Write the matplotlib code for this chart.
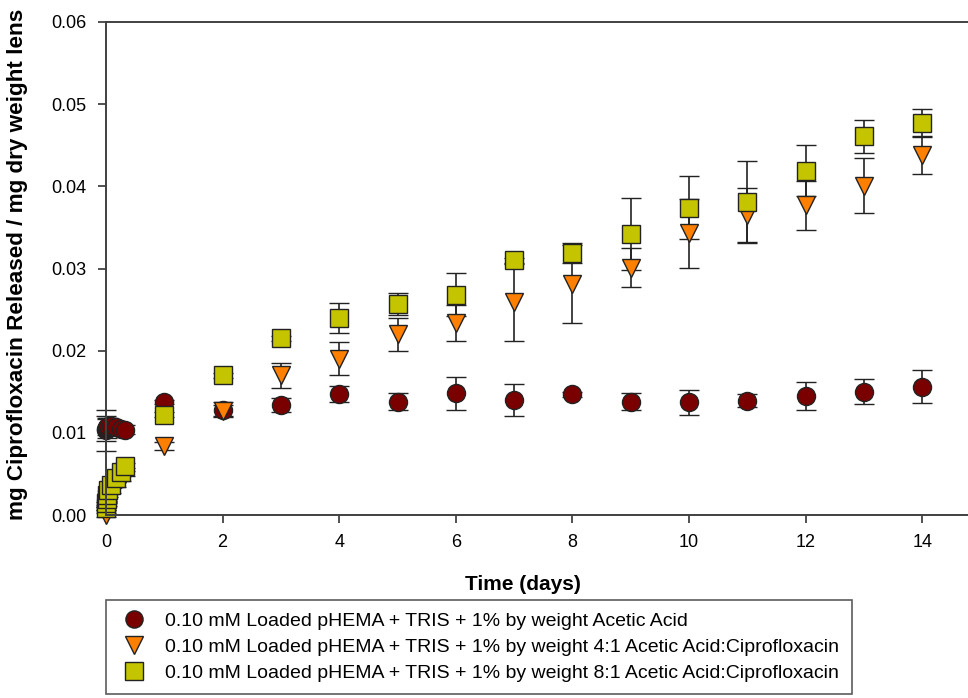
import numpy as np
import matplotlib
matplotlib.use("Agg")
import matplotlib.pyplot as plt

plt.rcParams['font.family'] = ['Liberation Sans', 'DejaVu Sans']

# time points (days)
t = [0, 0.0035, 0.0104, 0.0208, 0.0417, 0.0833, 0.167, 0.25, 0.333,
     1, 2, 3, 4, 5, 6, 7, 8, 9, 10, 11, 12, 13, 14]

# 1% acetic acid
aa_mean = [0.0103, 0.0105, 0.0106, 0.0107, 0.0108, 0.0108, 0.0107, 0.0105, 0.0104,
           0.01375, 0.0128, 0.0134, 0.0147, 0.0138, 0.0148, 0.0140, 0.0147,
           0.0138, 0.0137, 0.0139, 0.0145, 0.0150, 0.0156]
aa_err = [0.0025, 0.0015, 0.0012, 0.0010, 0.0010, 0.0008, 0.0006, 0.0005, 0.0005,
          0.0003, 0.0009, 0.0009, 0.0010, 0.0010, 0.0020, 0.0019, 0.0003,
          0.0010, 0.0015, 0.0008, 0.0017, 0.0015, 0.0020]

# 4:1 acetic acid:ciprofloxacin
r41_mean = [0.0000, 0.0008, 0.0013, 0.0018, 0.0024, 0.0030, 0.0037, 0.0044, 0.0050,
            0.0084, 0.0127, 0.0170, 0.0190, 0.0220, 0.0234, 0.0259, 0.0281,
            0.0301, 0.0343, 0.0365, 0.0377, 0.0401, 0.0438]
r41_err = [0.0002, 0.0002, 0.0002, 0.0002, 0.0002, 0.0003, 0.0003, 0.0003, 0.0003,
           0.0005, 0.0007, 0.0015, 0.0020, 0.0020, 0.0022, 0.0047, 0.0047,
           0.0024, 0.0042, 0.0033, 0.0030, 0.0033, 0.0023]

# 8:1 acetic acid:ciprofloxacin
r81_mean = [0.0008, 0.0014, 0.0019, 0.0024, 0.0030, 0.0037, 0.0045, 0.0052, 0.0060,
            0.0122, 0.0170, 0.0215, 0.0240, 0.0257, 0.0268, 0.0310, 0.0319,
            0.0342, 0.0374, 0.0381, 0.0419, 0.0461, 0.0477]
r81_err = [0.0002, 0.0002, 0.0002, 0.0002, 0.0003, 0.0003, 0.0003, 0.0003, 0.0003,
           0.0003, 0.0003, 0.0003, 0.0018, 0.0013, 0.0026, 0.0003, 0.0012,
           0.0044, 0.0038, 0.0050, 0.0031, 0.0020, 0.0017]

labels = ["0.10 mM Loaded pHEMA + TRIS + 1% by weight Acetic Acid",
          "0.10 mM Loaded pHEMA + TRIS + 1% by weight 4:1 Acetic Acid:Ciprofloxacin",
          "0.10 mM Loaded pHEMA + TRIS + 1% by weight 8:1 Acetic Acid:Ciprofloxacin"]

fig = plt.figure(figsize=(9.68, 6.98), dpi=100)
ax = fig.add_axes([106/968, 1 - 515/698, 15*58.3/968, 493/698])

series = [(aa_mean, aa_err, 'o', '#7a0000'),
          (r41_mean, r41_err, 'v', '#ff8000'),
          (r81_mean, r81_err, 's', '#c4c400')]
handles = []
for (m, e, mk, c), lab in zip(series, labels):
    h = ax.errorbar(t, m, yerr=e, fmt=mk, ms=13, mfc=c, mec='#222222', mew=1.0,
                    ecolor='#222222', elinewidth=1.2, capsize=7.5, capthick=1.2,
                    label=lab)
    h.lines[0].set_clip_on(False)
    for cl in h.lines[1]:
        cl.set_clip_on(False)
    for bl in h.lines[2]:
        bl.set_clip_on(False)
    handles.append(h)

ax.set_xlim(0, 15)
ax.set_ylim(0, 0.06)
ax.set_xticks(np.arange(0, 15, 2))
ax.set_yticks(np.arange(0, 0.061, 0.01))
ax.set_yticklabels([f"{v:.2f}" for v in np.arange(0, 0.061, 0.01)])
ax.tick_params(direction='out', length=6, width=1.2, colors='#333333',
               labelsize=13, labelcolor='black', pad=8)
for s in ['left', 'bottom', 'top', 'right']:
    ax.spines[s].set_linewidth(1.4)
    ax.spines[s].set_color('#404040')

ax.set_xlabel("Time (days)", fontsize=15, fontweight='bold')
ax.xaxis.set_label_coords((523 - 106) / (15*58.3), -60/493)
ax.set_ylabel("mg Ciprofloxacin Released / mg dry weight lens", fontsize=16.2,
              fontweight='bold')
ax.yaxis.set_label_coords(-78/(15*58.3), (515 - 264)/493)

leg = fig.legend(handles=[h[0] for h in handles], labels=labels,
                 loc='upper left', bbox_to_anchor=(106/968, 1 - 600/698),
                 borderaxespad=0, fontsize=14, frameon=True, fancybox=False,
                 edgecolor='#333333', borderpad=0.65, labelspacing=0.42,
                 handletextpad=0.8, handlelength=1.6, markerscale=0.95)
leg.get_frame().set_linewidth(1.2)

fig.savefig("out.png", dpi=100)
